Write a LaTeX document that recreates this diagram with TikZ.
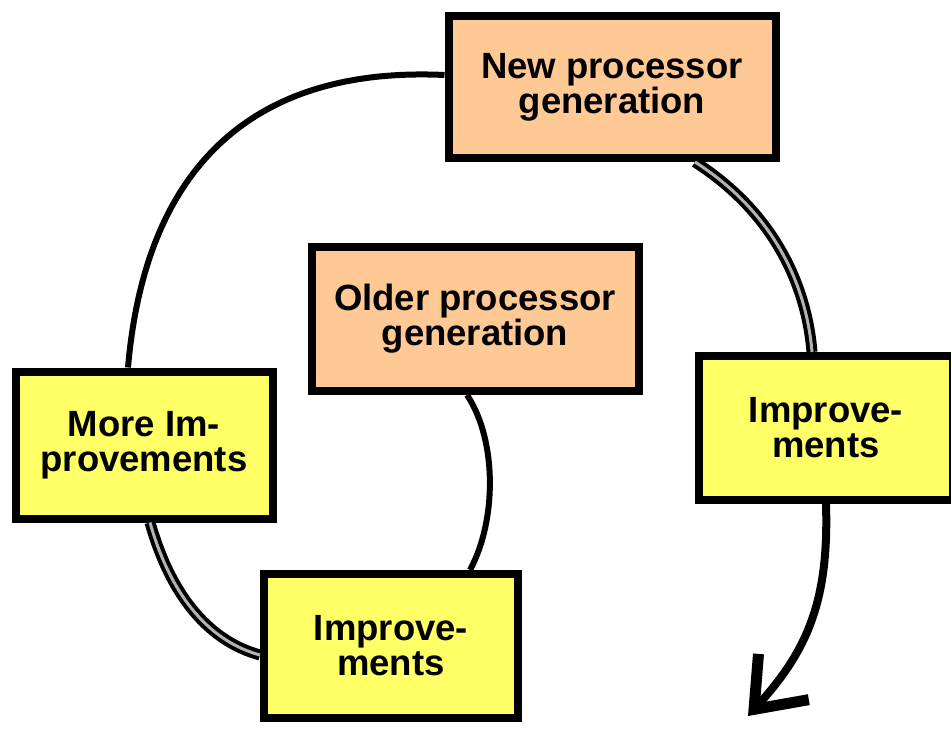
\documentclass[tikz,border=0pt]{standalone}
\usepackage{fontspec}
\setmainfont{Liberation Sans}
\usetikzlibrary{arrows.meta}
\definecolor{peach}{RGB}{255,201,150}
\definecolor{lemon}{RGB}{255,255,102}

\begin{document}
\begin{tikzpicture}[
	x=1pt,y=-1pt,
	gen/.style={
	  draw,
	  line width=8pt,
	  fill=peach,
	  minimum width=327pt,
	  minimum height=142pt,
	  align=center,
	  font=\fontsize{36.5}{35}\selectfont\bfseries
	},
	impr/.style={
	  gen,
	  fill=lemon,
	  minimum width=254pt,
	  minimum height=144pt
	},
	link/.style={
	  line width=6pt
	},
	twin/.style={
	  line width=4pt,
	  double=gray!60,
	  double distance=3pt
	}
]
\useasboundingbox (0,0) rectangle (951,730);

% processor generations
\node[gen] at (612,87) (newgen) {New processor\\generation};
\node[gen,minimum height=144pt] at (475,319) (oldgen) {Older processor\\generation};

% improvements
\node[impr,minimum width=257pt,minimum height=147pt] at (144,445)
  (moreimp) {More Im-\\provements};
\node[impr] at (826,428) (impright) {Improve-\\ments};
\node[impr] at (391,646) (impbottom) {Improve-\\ments};

\coordinate (tip) at (748,716);

% cycle
\draw[link] ([yshift=12pt]newgen.west)
  .. controls (250,66) and (145,170) .. ([xshift=-16pt]moreimp.north);
\draw[twin] ([xshift=83pt]newgen.south)
  .. controls (770,210) and (806,280) .. ([xshift=-14pt]impright.north);
\draw[link,line width=8pt,-{Straight Barb[length=44pt,width=68pt,line width=11pt]}]
  (impright.south) .. controls (829,600) and (808,650) .. (tip);
\draw[twin] ([xshift=6pt]moreimp.south)
  .. controls (172,600) and (212,642) .. ([yshift=-9pt]impbottom.west);
\draw[link] ([xshift=-8pt]oldgen.south)
  .. controls (497,440) and (497,520) .. ([xshift=79pt]impbottom.north);

\end{tikzpicture}
\end{document}
